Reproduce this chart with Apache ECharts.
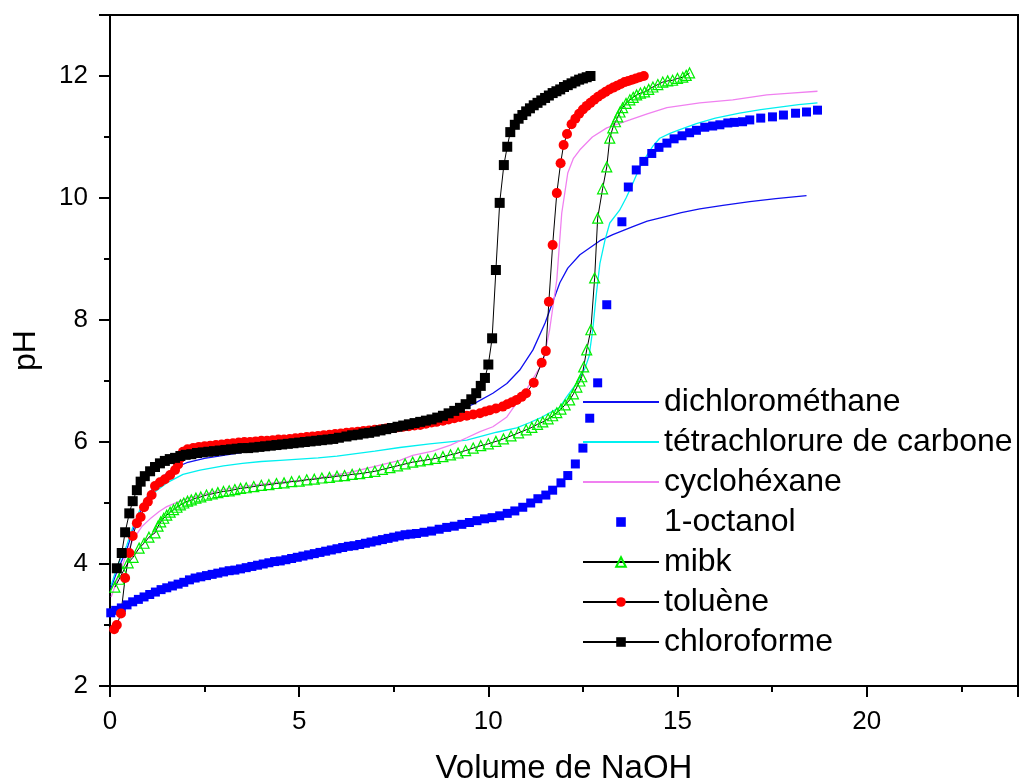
<!DOCTYPE html>
<html>
<head>
<meta charset="utf-8">
<script src="https://cdn.jsdelivr.net/npm/echarts@6/dist/echarts.min.js"></script>
<style>
  html, body { margin: 0; padding: 0; background: #fff; }
  #chart { width: 1019px; height: 783px; }
</style>
</head>
<body>
<div id="chart"></div>
<script>
// noms des séries (ordre de la légende)
const seriesNames = ["dichlorométhane", "tétrachlorure de carbone", "cyclohéxane", "1-octanol", "mibk", "toluène", "chloroforme"];
const xTicks = [0, 5, 10, 15, 20];
const yTicks = [2, 4, 6, 8, 10, 12];

// [volume NaOH, pH]
const dichloromethane = [[0.02,3.6],[0.2,3.9],[0.44,4.23],[0.61,4.56],[0.8,4.85],[0.98,5.1],[1.2,5.3],[1.5,5.49],[1.8,5.6],[2.03,5.66],[2.5,5.73],[3.0,5.78],[3.5,5.83],[4.0,5.87],[4.5,5.91],[5.0,5.95],[5.5,5.99],[6.0,6.04],[6.5,6.09],[7.0,6.15],[7.5,6.2],[8.0,6.26],[8.5,6.34],[9.0,6.45],[9.25,6.52],[9.6,6.62],[10.12,6.8],[10.49,6.96],[10.83,7.18],[11.18,7.51],[11.5,7.95],[11.89,8.61],[12.1,8.85],[12.42,9.07],[12.95,9.3],[13.29,9.4],[13.82,9.53],[14.2,9.62],[14.71,9.7],[15.1,9.76],[15.59,9.82],[16.2,9.88],[16.91,9.94],[17.6,9.99],[18.41,10.04]];

const tetrachlorure = [[0.03,3.65],[0.2,3.98],[0.44,4.3],[0.6,4.6],[0.79,4.89],[1.0,5.08],[1.14,5.16],[1.5,5.33],[1.93,5.47],[2.38,5.54],[3.0,5.61],[3.5,5.65],[4.0,5.68],[4.5,5.7],[5.0,5.72],[5.5,5.74],[6.0,5.77],[6.5,5.81],[7.0,5.85],[7.66,5.91],[8.45,5.97],[9.43,6.03],[10.22,6.16],[10.75,6.23],[11.1,6.32],[11.36,6.39],[11.89,6.57],[12.07,6.74],[12.34,6.97],[12.55,7.2],[12.66,7.4],[12.76,7.84],[12.85,8.4],[12.95,8.93],[13.08,9.3],[13.21,9.59],[13.47,9.8],[13.64,10.0],[13.82,10.24],[14.0,10.5],[14.19,10.7],[14.35,10.85],[14.53,10.98],[14.8,11.06],[15.06,11.12],[15.5,11.22],[16.0,11.31],[16.64,11.39],[17.2,11.45],[17.7,11.49],[18.2,11.53],[18.7,11.56]];

const cyclohexane = [[0.03,3.46],[0.2,3.75],[0.4,4.1],[0.61,4.4],[0.85,4.62],[1.06,4.74],[1.3,4.86],[1.5,4.94],[1.93,5.05],[2.38,5.13],[3.0,5.22],[3.7,5.29],[4.5,5.34],[5.0,5.37],[5.5,5.41],[6.34,5.5],[7.0,5.6],[7.66,5.7],[8.0,5.78],[8.53,5.85],[9.0,5.95],[9.43,6.07],[9.78,6.17],[10.12,6.25],[10.49,6.41],[10.75,6.64],[11.0,6.85],[11.28,7.14],[11.44,7.29],[11.62,7.84],[11.81,8.66],[11.94,9.75],[12.1,10.41],[12.25,10.65],[12.42,10.79],[12.75,11.0],[13.13,11.15],[13.74,11.28],[14.2,11.38],[14.72,11.48],[15.59,11.56],[16.46,11.61],[17.36,11.69],[18.0,11.72],[18.7,11.75]];

const octanol = [[0.02,3.2],[0.15,3.24],[0.3,3.28],[0.45,3.33],[0.6,3.38],[0.75,3.42],[0.9,3.46],[1.05,3.5],[1.2,3.54],[1.35,3.58],[1.5,3.61],[1.65,3.64],[1.8,3.67],[1.95,3.7],[2.1,3.74],[2.25,3.77],[2.4,3.79],[2.55,3.81],[2.7,3.83],[2.85,3.85],[3.0,3.87],[3.15,3.89],[3.3,3.9],[3.45,3.92],[3.6,3.94],[3.75,3.96],[3.9,3.98],[4.05,4.0],[4.2,4.02],[4.35,4.04],[4.5,4.05],[4.65,4.07],[4.8,4.09],[4.95,4.11],[5.1,4.13],[5.25,4.15],[5.4,4.17],[5.55,4.19],[5.7,4.21],[5.85,4.23],[6.0,4.25],[6.15,4.27],[6.3,4.29],[6.45,4.3],[6.6,4.32],[6.75,4.34],[6.9,4.36],[7.05,4.38],[7.2,4.4],[7.35,4.42],[7.5,4.44],[7.65,4.46],[7.8,4.48],[7.95,4.49],[8.1,4.5],[8.3,4.52],[8.5,4.54],[8.7,4.57],[8.9,4.6],[9.1,4.62],[9.3,4.65],[9.5,4.68],[9.7,4.71],[9.9,4.74],[10.1,4.76],[10.3,4.79],[10.5,4.83],[10.7,4.87],[10.91,4.93],[11.12,5.0],[11.31,5.07],[11.52,5.13],[11.7,5.21],[11.92,5.33],[12.1,5.45],[12.3,5.64],[12.5,5.9],[12.68,6.39],[12.89,6.97],[13.13,8.25],[13.53,9.61],[13.7,10.18],[13.91,10.46],[14.11,10.6],[14.32,10.73],[14.51,10.83],[14.72,10.9],[14.91,10.97],[15.12,11.02],[15.32,11.07],[15.5,11.11],[15.72,11.16],[15.93,11.18],[16.12,11.2],[16.33,11.23],[16.5,11.24],[16.72,11.25],[16.91,11.28],[17.2,11.31],[17.51,11.33],[17.8,11.36],[18.12,11.39],[18.41,11.41],[18.7,11.44]];

const mibk = [[0.13,3.62],[0.24,3.75],[0.34,3.87],[0.48,4.02],[0.61,4.11],[0.77,4.26],[0.9,4.34],[1.03,4.44],[1.19,4.51],[1.27,4.62],[1.34,4.69],[1.42,4.75],[1.5,4.8],[1.59,4.85],[1.68,4.89],[1.77,4.93],[1.86,4.97],[1.95,5.0],[2.05,5.03],[2.15,5.05],[2.27,5.08],[2.4,5.1],[2.55,5.13],[2.7,5.15],[2.85,5.17],[3.0,5.19],[3.15,5.2],[3.3,5.22],[3.45,5.24],[3.6,5.25],[3.8,5.27],[4.0,5.29],[4.2,5.3],[4.4,5.32],[4.6,5.33],[4.8,5.35],[5.0,5.36],[5.2,5.38],[5.4,5.39],[5.6,5.41],[5.8,5.42],[6.0,5.44],[6.2,5.45],[6.4,5.47],[6.6,5.48],[6.8,5.5],[7.0,5.52],[7.2,5.55],[7.4,5.58],[7.6,5.61],[7.8,5.64],[8.0,5.67],[8.2,5.69],[8.4,5.71],[8.6,5.73],[8.8,5.76],[9.0,5.79],[9.2,5.82],[9.4,5.86],[9.6,5.9],[9.8,5.94],[10.0,5.97],[10.2,6.01],[10.4,6.05],[10.6,6.1],[10.8,6.15],[11.0,6.2],[11.15,6.24],[11.3,6.29],[11.44,6.33],[11.58,6.38],[11.7,6.43],[11.81,6.48],[11.92,6.54],[12.03,6.61],[12.15,6.69],[12.25,6.79],[12.34,6.9],[12.42,7.0],[12.47,7.07],[12.52,7.23],[12.6,7.51],[12.71,7.84],[12.81,8.69],[12.89,9.67],[13.02,10.15],[13.13,10.51],[13.21,10.98],[13.29,11.15],[13.36,11.25],[13.42,11.33],[13.48,11.41],[13.55,11.48],[13.64,11.55],[13.74,11.61],[13.83,11.65],[13.92,11.69],[14.02,11.72],[14.13,11.74],[14.24,11.78],[14.35,11.82],[14.48,11.86],[14.61,11.9],[14.74,11.92],[14.87,11.93],[15.0,11.96],[15.14,11.98],[15.23,12.01],[15.32,12.05]];

const toluene = [[0.11,2.93],[0.18,3.0],[0.29,3.19],[0.4,3.77],[0.51,4.18],[0.6,4.46],[0.71,4.67],[0.81,4.77],[0.9,4.93],[1.0,5.02],[1.1,5.13],[1.19,5.28],[1.32,5.34],[1.45,5.39],[1.59,5.46],[1.72,5.54],[1.8,5.63],[1.86,5.74],[1.93,5.84],[2.05,5.88],[2.2,5.9],[2.35,5.92],[2.5,5.93],[2.65,5.94],[2.8,5.95],[2.95,5.96],[3.1,5.97],[3.25,5.98],[3.4,5.99],[3.55,6.0],[3.7,6.0],[3.85,6.01],[4.0,6.02],[4.15,6.02],[4.3,6.03],[4.45,6.04],[4.6,6.04],[4.75,6.05],[4.9,6.06],[5.05,6.07],[5.2,6.08],[5.35,6.09],[5.5,6.1],[5.65,6.11],[5.8,6.12],[5.95,6.13],[6.1,6.14],[6.25,6.15],[6.4,6.16],[6.55,6.17],[6.7,6.18],[6.85,6.19],[7.0,6.2],[7.15,6.21],[7.3,6.22],[7.45,6.23],[7.6,6.24],[7.75,6.25],[7.9,6.26],[8.05,6.27],[8.2,6.28],[8.35,6.3],[8.5,6.32],[8.63,6.33],[8.8,6.35],[8.95,6.37],[9.1,6.39],[9.25,6.41],[9.43,6.43],[9.6,6.45],[9.78,6.47],[9.92,6.5],[10.04,6.52],[10.2,6.55],[10.38,6.58],[10.5,6.62],[10.62,6.65],[10.75,6.69],[10.88,6.74],[11.0,6.8],[11.2,6.97],[11.41,7.3],[11.52,7.49],[11.6,8.3],[11.7,9.23],[11.81,10.08],[11.91,10.57],[11.99,10.87],[12.08,11.05],[12.2,11.21],[12.3,11.3],[12.4,11.38],[12.5,11.45],[12.6,11.51],[12.7,11.56],[12.8,11.61],[12.9,11.66],[13.0,11.7],[13.1,11.74],[13.2,11.78],[13.3,11.81],[13.4,11.84],[13.5,11.87],[13.6,11.9],[13.7,11.92],[13.8,11.94],[13.9,11.96],[14.0,11.98],[14.11,12.0]];

const chloroforme = [[0.18,3.93],[0.31,4.18],[0.4,4.52],[0.51,4.83],[0.6,5.03],[0.71,5.21],[0.81,5.35],[0.92,5.44],[1.06,5.52],[1.19,5.59],[1.32,5.65],[1.45,5.69],[1.58,5.72],[1.72,5.74],[1.86,5.77],[2.0,5.79],[2.15,5.8],[2.3,5.82],[2.45,5.83],[2.6,5.84],[2.75,5.85],[2.9,5.86],[3.05,5.87],[3.2,5.88],[3.35,5.89],[3.5,5.9],[3.65,5.9],[3.8,5.91],[3.95,5.92],[4.1,5.93],[4.25,5.94],[4.4,5.95],[4.55,5.96],[4.7,5.97],[4.85,5.98],[5.0,5.99],[5.15,6.0],[5.3,6.01],[5.45,6.02],[5.6,6.03],[5.75,6.04],[5.9,6.05],[6.05,6.07],[6.25,6.09],[6.4,6.11],[6.55,6.12],[6.7,6.14],[6.85,6.15],[7.0,6.17],[7.15,6.19],[7.3,6.21],[7.45,6.23],[7.6,6.25],[7.75,6.27],[7.9,6.29],[8.05,6.31],[8.2,6.33],[8.35,6.35],[8.5,6.37],[8.65,6.4],[8.8,6.43],[8.95,6.47],[9.1,6.51],[9.25,6.56],[9.4,6.62],[9.55,6.7],[9.68,6.8],[9.8,6.92],[9.91,7.05],[10.0,7.27],[10.1,7.7],[10.2,8.82],[10.3,9.92],[10.41,10.54],[10.5,10.84],[10.58,11.08],[10.7,11.2],[10.8,11.3],[10.9,11.36],[11.0,11.42],[11.1,11.47],[11.2,11.52],[11.3,11.56],[11.4,11.6],[11.5,11.64],[11.6,11.68],[11.7,11.72],[11.8,11.75],[11.9,11.78],[12.0,11.82],[12.1,11.85],[12.2,11.88],[12.3,11.91],[12.4,11.94],[12.5,11.96],[12.6,11.98],[12.7,12.0]];

const FONT = "'Liberation Sans', Arial, sans-serif";
const chart = echarts.init(document.getElementById("chart"));

// courbe simple (sans symbole)
function plainLine(name, data, color) {
  return {
    name: name, type: "line", data: data,
    showSymbol: false, symbol: "circle",
    lineStyle: { color: color, width: 1.3 },
    itemStyle: { color: color },
  };
}
// courbe avec marqueurs reliés par un trait noir
function markerLine(name, data, symbol, size, itemStyle, lineOpacity) {
  return {
    name: name, type: "line", data: data,
    symbol: symbol, symbolSize: size, showAllSymbol: true,
    lineStyle: { color: "#000", width: 1, opacity: lineOpacity },
    itemStyle: itemStyle,
  };
}

const option = {
  animation: false,
  backgroundColor: "#fff",
  textStyle: { fontFamily: FONT, color: "#000" },
  grid: {
    left: 110, right: 1, top: 15, bottom: 97,
    outerBoundsMode: "none",
    show: true, borderColor: "#000", borderWidth: 2,
  },
  legend: {
    orient: "vertical",
    left: 582, top: 386,
    padding: 0,
    itemWidth: 76, itemHeight: 12, itemGap: 8,
    textStyle: { fontFamily: FONT, fontSize: 32, color: "#000", padding: [0, 0, 0, 0] },
    data: seriesNames.map((n, i) => i < 3 ? { name: n, itemStyle: { opacity: 0 } } : { name: n }),
  },
  xAxis: {
    type: "value", min: 0, max: 24, interval: 5,
    name: "Volume de NaOH", nameLocation: "middle", nameGap: 66,
    nameTextStyle: { fontFamily: FONT, fontSize: 33, color: "#000" },
    axisLine: { lineStyle: { color: "#000", width: 2 } },
    axisTick: { length: 11, lineStyle: { color: "#000", width: 2 } },
    minorTick: { show: true, splitNumber: 2, length: 6, lineStyle: { color: "#000", width: 2 } },
    axisLabel: {
      fontFamily: FONT, fontSize: 26, color: "#000", margin: 23, showMaxLabel: false,
      formatter: v => xTicks.includes(v) ? String(v) : "",
    },
    splitLine: { show: false },
  },
  yAxis: {
    type: "value", min: 2, max: 13, interval: 2,
    name: "pH", nameLocation: "middle", nameGap: 68, nameRotate: 90,
    nameTextStyle: { fontFamily: FONT, fontSize: 32, color: "#000" },
    axisLine: { lineStyle: { color: "#000", width: 2 } },
    axisTick: { length: 11, lineStyle: { color: "#000", width: 2 } },
    minorTick: { show: true, splitNumber: 2, length: 6, lineStyle: { color: "#000", width: 2 } },
    axisLabel: {
      fontFamily: FONT, fontSize: 26, color: "#000", margin: 22, showMaxLabel: false,
      formatter: v => yTicks.includes(v) ? String(v) : "",
    },
    splitLine: { show: false },
  },
  series: [
    plainLine(seriesNames[0], dichloromethane, "#1010f0"),
    plainLine(seriesNames[1], tetrachlorure, "#00f0f0"),
    plainLine(seriesNames[2], cyclohexane, "#f080f0"),
    markerLine(seriesNames[3], octanol, "rect", 9, { color: "#0000ff" }, 0),
    markerLine(seriesNames[4], mibk, "triangle", 10,
      { color: "rgba(255,255,255,0)", borderColor: "#00ee00", borderWidth: 1.2 }, 1),
    markerLine(seriesNames[5], toluene, "circle", 10, { color: "#ff0000" }, 1),
    markerLine(seriesNames[6], chloroforme, "rect", 10, { color: "#000000" }, 1),
  ],
};

chart.setOption(option);
</script>
</body>
</html>
